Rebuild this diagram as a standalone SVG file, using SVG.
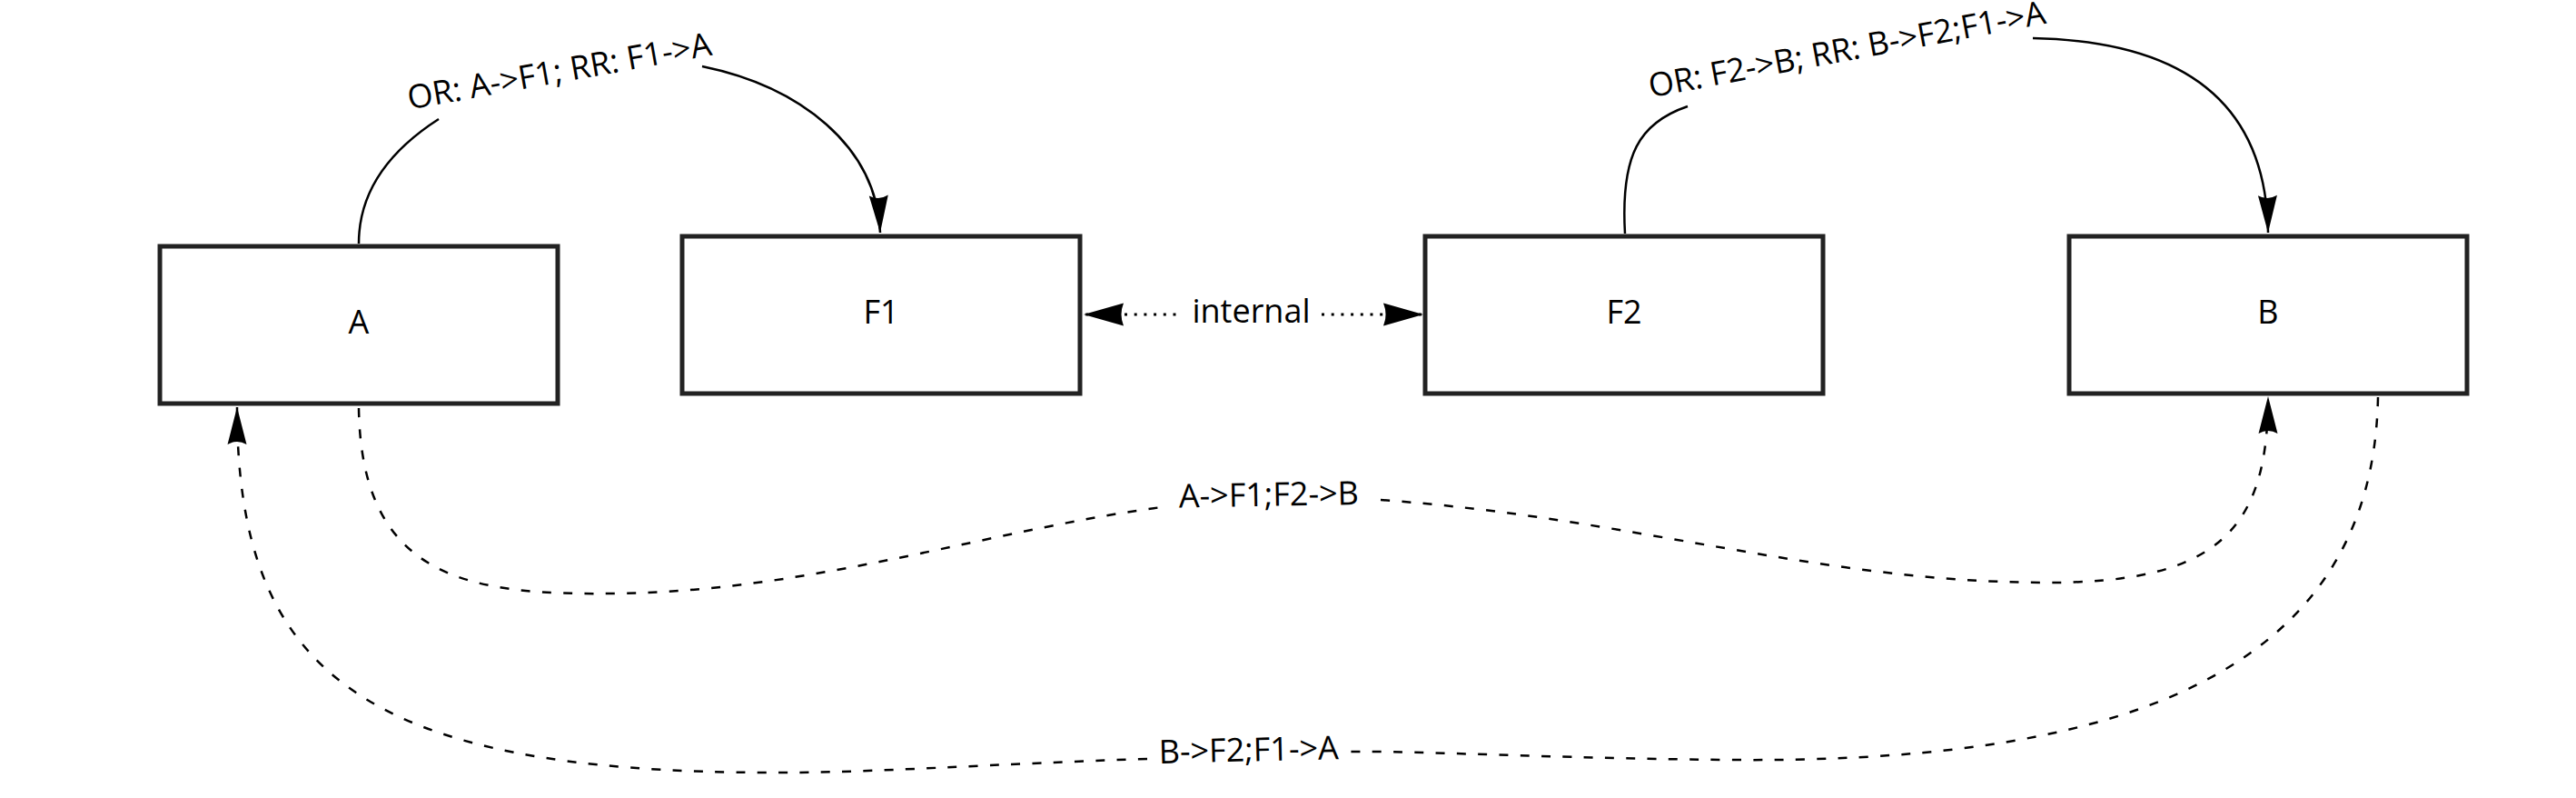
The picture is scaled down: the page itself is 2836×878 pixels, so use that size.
<svg xmlns="http://www.w3.org/2000/svg" width="2836" height="878" viewBox="0 0 2836 878">
  <style>
    .box { fill: #ffffff; stroke: #222222; stroke-width: 5; }
    .lbl { font-family: "Open Sans", "Liberation Sans", sans-serif; font-size: 36px; fill: #000000; text-anchor: middle; }
    .solid { fill: none; stroke: #000000; stroke-width: 2.5; }
    .dashed { fill: none; stroke: #000000; stroke-width: 2.5; stroke-dasharray: 10 13.3; }
    .dotted { fill: none; stroke: #000000; stroke-width: 3; stroke-dasharray: 3 7.7; }
  </style>
  <defs>
    <marker id="arr" markerUnits="userSpaceOnUse" viewBox="-46 -14 48 28" markerWidth="48" markerHeight="28" refX="0" refY="0" orient="auto">
      <path d="M0,0 L-41,-10.5 Q-35,0 -41,10.5 Z" fill="#000000" stroke="none"/>
    </marker>
    <marker id="arrBig" markerUnits="userSpaceOnUse" viewBox="-46 -14 48 28" markerWidth="48" markerHeight="28" refX="0" refY="0" orient="auto-start-reverse">
      <path d="M0,0 L-44,-12.5 Q-39,0 -44,12.5 Z" fill="#000000" stroke="none"/>
    </marker>
  </defs>
  <rect x="0" y="0" width="2836" height="878" fill="#ffffff"/>

  <g id="connectors">
    <g id="edge-A-F1">
      <path class="solid" d="M395,268 C395,210 430,165 483,131"/>
      <path class="solid" d="M773,73 C880,95 965,160 969,256" marker-end="url(#arr)"/>
      <text class="lbl" transform="translate(618,90.5) rotate(-10.2)" x="0" y="0">OR: A-&gt;F1; RR: F1-&gt;A</text>
    </g>
    <g id="edge-F2-B">
      <path class="solid" d="M1789,257 C1784,170 1805,135 1858,117"/>
      <path class="solid" d="M2238,42 C2400,45 2495,110 2497,256" marker-end="url(#arr)"/>
      <text class="lbl" transform="translate(2035.5,66.5) rotate(-10.6)" x="0" y="0">OR: F2-&gt;B; RR: B-&gt;F2;F1-&gt;A</text>
    </g>
    <g id="edge-F1-F2">
      <path class="dotted" d="M1193,346 L1300,346" style="stroke-dashoffset:8.5" marker-start="url(#arrBig)"/>
      <path class="dotted" d="M1455,346 L1567,346" marker-end="url(#arrBig)"/>
      <text class="lbl" x="1377.5" y="355">internal</text>
    </g>
    <g id="edge-A-B">
      <path class="dashed" d="M395,449 C398,640 520,655 680,653 C900,650 1100,580 1287,557"/>
      <path class="dashed" d="M1520,550 C1800,570 2000,640 2250,641 C2440,642 2497,585 2497,436" marker-end="url(#arr)"/>
      <text class="lbl" transform="translate(1397,556.7) rotate(-1)" x="0" y="0">A-&gt;F1;F2-&gt;B</text>
    </g>
    <g id="edge-B-A">
      <path class="dashed" d="M2618,437 C2612,760 2300,840 1900,836 C1700,834 1560,826 1485,827"/>
      <path class="dashed" d="M1263,835 C1100,840 950,851 850,850 C400,850 261,740 261,448" marker-end="url(#arr)"/>
      <text class="lbl" transform="translate(1375,837.5) rotate(-1.4)" x="0" y="0">B-&gt;F2;F1-&gt;A</text>
    </g>
  </g>

  <g id="node-A">
    <rect class="box" x="176" y="271" width="438" height="173"/>
    <text class="lbl" x="395" y="367">A</text>
  </g>
  <g id="node-F1">
    <rect class="box" x="751" y="260" width="438" height="173"/>
    <text class="lbl" x="970" y="356">F1</text>
  </g>
  <g id="node-F2">
    <rect class="box" x="1569" y="260" width="438" height="173"/>
    <text class="lbl" x="1788" y="356">F2</text>
  </g>
  <g id="node-B">
    <rect class="box" x="2278" y="260" width="438" height="173"/>
    <text class="lbl" x="2497" y="356">B</text>
  </g>
</svg>
